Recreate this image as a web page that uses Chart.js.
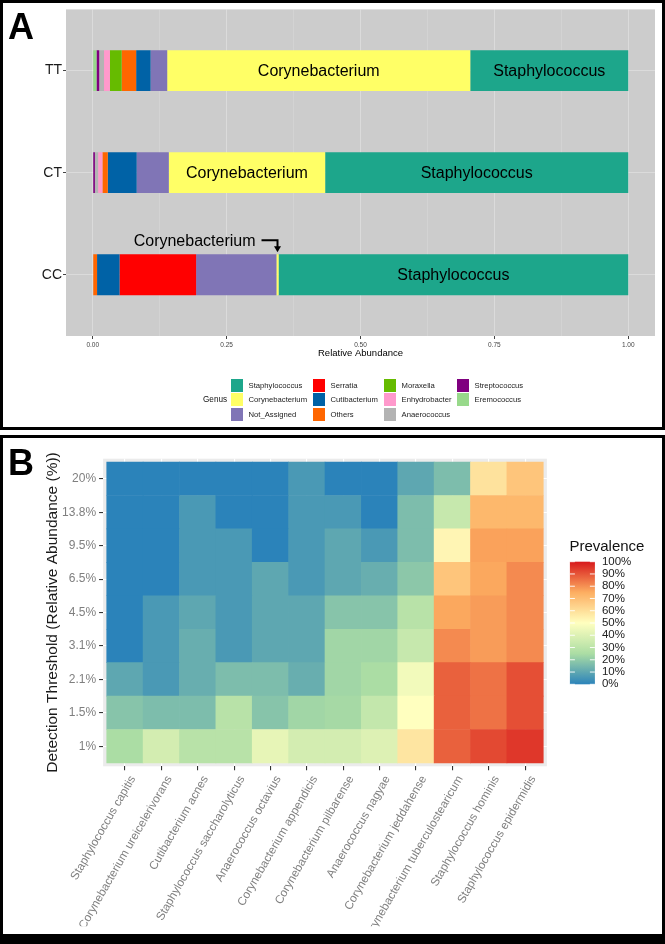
<!DOCTYPE html>
<html>
<head>
<meta charset="utf-8">
<title>Relative abundance and prevalence</title>
<script src="https://cdn.jsdelivr.net/npm/chart.js@4.4.1/dist/chart.umd.min.js"></script>
<style>
  html, body { margin: 0; padding: 0; background: #fff; }
  body { width: 665px; height: 944px; position: relative; overflow: hidden; font-family: 'Liberation Sans', Arial, sans-serif; }
  canvas { position: absolute; left: 0; }
  #chartA { top: 0; }
  #chartB { top: 435px; }
  .panel { position: absolute; left: 0; width: 665px; box-sizing: border-box; border: 3px solid #000; z-index: 2; pointer-events: none; }
  #panelA { top: 0; height: 430px; }
  #panelB { top: 435px; height: 509px; border-bottom-width: 10px; }
  .tag { position: absolute; left: 8px; font: bold 36px/36px 'Liberation Sans', Arial, sans-serif; color: #000; z-index: 3; }
  #legendA { position: absolute; left: 0; top: 0; width: 665px; height: 430px; z-index: 1; }
  .key { position: absolute; width: 12px; height: 13px; }
  .keytext { position: absolute; font-size: 7.7px; line-height: 13px; color: #222; white-space: nowrap; }
  .legtitle { position: absolute; font-size: 8.2px; line-height: 13px; color: #111; }
</style>
</head>
<body>
<canvas id="chartA" width="665" height="430"></canvas>
<canvas id="chartB" width="665" height="509"></canvas>
<div id="legendA"></div>
<div class="panel" id="panelA"></div>
<div class="panel" id="panelB"></div>
<div class="tag" style="top:9px">A</div>
<div class="tag" style="top:445px">B</div>
<script>
const FONT = "'Liberation Sans', Arial, sans-serif";

// ---- Panel A: relative abundance by genotype ----
const genotypes = ['TT', 'CT', 'CC'];
// stacking order, left to right
const genera = ['Eremococcus', 'Streptococcus', 'Anaerococcus', 'Enhydrobacter', 'Moraxella', 'Others',
  'Cutibacterium', 'Serratia', 'Not_Assigned', 'Corynebacterium', 'Staphylococcus'];
const eremococcus     = [0.007, 0.000, 0.000];
const streptococcus   = [0.005, 0.004, 0.000];
const anaerococcus    = [0.009, 0.006, 0.000];
const enhydrobacter   = [0.011, 0.008, 0.000];
const moraxella       = [0.022, 0.000, 0.000];
const others          = [0.027, 0.010, 0.008];
const cutibacterium   = [0.027, 0.054, 0.042];
const serratia        = [0.000, 0.000, 0.143];
const notAssigned     = [0.031, 0.060, 0.150];
const corynebacterium = [0.566, 0.292, 0.004];
const staphylococcus  = [0.295, 0.566, 0.653];
const generaValues = [eremococcus, streptococcus, anaerococcus, enhydrobacter, moraxella, others,
  cutibacterium, serratia, notAssigned, corynebacterium, staphylococcus];
const generaColors = ['#98d98b', '#7f007f', '#b3b3b3', '#ff99cc', '#66bb00', '#ff6600',
  '#0062a6', '#ff0000', '#8075b6', '#ffff66', '#1da68b'];

const abundanceTickValues = [0, 0.25, 0.5, 0.75, 1];
const abundanceTickLabels = ['0.00', '0.25', '0.50', '0.75', '1.00'];
const abundanceGrid = [0, 0.125, 0.25, 0.375, 0.5, 0.625, 0.75, 0.875, 1];

// text written on the bars
const barLabels = [
  { genus: 'Corynebacterium', row: 0 }, { genus: 'Staphylococcus', row: 0 },
  { genus: 'Corynebacterium', row: 1 }, { genus: 'Staphylococcus', row: 1 },
  { genus: 'Staphylococcus', row: 2 }
];
const callout = { genus: 'Corynebacterium', row: 2 };

function panelBg(color) {
  return {
    id: 'panelBg',
    beforeDraw(chart) {
      const { ctx, chartArea: a } = chart;
      ctx.save();
      ctx.fillStyle = color;
      ctx.fillRect(a.left, a.top, a.right - a.left, a.bottom - a.top);
      ctx.restore();
    }
  };
}

const barText = {
  id: 'barText',
  afterDatasetsDraw(chart) {
    const ctx = chart.ctx;
    ctx.save();
    ctx.font = '16px ' + FONT;
    ctx.fillStyle = '#000';
    ctx.textAlign = 'center';
    ctx.textBaseline = 'middle';
    barLabels.forEach(l => {
      const el = chart.getDatasetMeta(genera.indexOf(l.genus)).data[l.row];
      ctx.fillText(l.genus, (el.x + el.base) / 2, el.y + 1);
    });
    const el = chart.getDatasetMeta(genera.indexOf(callout.genus)).data[callout.row];
    const ax = (el.x + el.base) / 2;
    const top = el.y - el.height / 2;
    const ly = top - 14;
    ctx.textAlign = 'right';
    ctx.fillText(callout.genus, ax - 22, ly + 1);
    ctx.strokeStyle = '#000';
    ctx.lineWidth = 2;
    ctx.beginPath();
    ctx.moveTo(ax - 16, ly);
    ctx.lineTo(ax, ly);
    ctx.lineTo(ax, top - 7);
    ctx.stroke();
    ctx.beginPath();
    ctx.moveTo(ax - 3.5, top - 8);
    ctx.lineTo(ax + 3.5, top - 8);
    ctx.lineTo(ax, top - 2);
    ctx.closePath();
    ctx.fill();
    ctx.restore();
  }
};

const isMajor = v => abundanceTickValues.includes(v);

new Chart(document.getElementById('chartA'), {
  type: 'bar',
  data: {
    datasets: genera.map((g, k) => ({
      label: g,
      data: generaValues[k].map((v, i) => ({ x: v, y: i })),
      backgroundColor: generaColors[k],
      borderWidth: 0,
      categoryPercentage: 1,
      barPercentage: 0.4
    }))
  },
  options: {
    indexAxis: 'y',
    responsive: false,
    animation: false,
    layout: { padding: { top: 7, right: 10, left: 0, bottom: 71 } },
    plugins: { legend: { display: false }, tooltip: { enabled: false } },
    scales: {
      x: {
        type: 'linear', stacked: true, min: -0.05, max: 1.05,
        afterBuildTicks: s => { s.ticks = abundanceGrid.map(v => ({ value: v })); },
        afterFit: s => { s.height = 23; },
        border: { display: false },
        grid: {
          color: c => (c.tick && isMajor(c.tick.value)) ? 'rgba(255,255,255,0.3)' : 'rgba(255,255,255,0.15)',
          tickColor: c => (c.tick && isMajor(c.tick.value)) ? '#444' : 'rgba(0,0,0,0)',
          tickLength: 3
        },
        ticks: {
          autoSkip: false, maxRotation: 0, padding: 2, color: '#444',
          font: { size: 6.5, family: FONT },
          callback: v => { const i = abundanceTickValues.indexOf(v); return i >= 0 ? abundanceTickLabels[i] : ''; }
        },
        title: { display: true, text: 'Relative Abundance', color: '#000', font: { size: 9.5, family: FONT }, padding: 0 }
      },
      y: {
        type: 'linear', stacked: true, reverse: true, min: -0.6, max: 2.6, offset: false,
        afterBuildTicks: s => { s.ticks = genotypes.map((g, i) => ({ value: i })); },
        afterFit: s => { s.width = 66; },
        border: { display: false },
        grid: { offset: false, color: 'rgba(255,255,255,0.3)', tickColor: '#444', tickLength: 3 },
        ticks: { autoSkip: false, padding: 1, color: '#1a1a1a', font: { size: 14, family: FONT }, callback: v => genotypes[v] }
      }
    }
  },
  plugins: [panelBg('#cccccc'), barText]
});

// legend for panel A (ggplot order: columns of three)
const legendCols = [231, 313, 384, 457];
const legendRows = [378.5, 393, 407.5];
const legendBox = document.getElementById('legendA');
const legTitle = document.createElement('div');
legTitle.className = 'legtitle';
legTitle.textContent = 'Genus';
legTitle.style.left = '203px';
legTitle.style.top = legendRows[1] + 'px';
legendBox.appendChild(legTitle);
genera.slice().reverse().forEach((g, k) => {
  const col = Math.floor(k / 3), row = k % 3;
  const key = document.createElement('div');
  key.className = 'key';
  key.style.left = legendCols[col] + 'px';
  key.style.top = legendRows[row] + 'px';
  key.style.background = generaColors[genera.indexOf(g)];
  const txt = document.createElement('div');
  txt.className = 'keytext';
  txt.textContent = g;
  txt.style.left = (legendCols[col] + 17.5) + 'px';
  txt.style.top = legendRows[row] + 'px';
  legendBox.appendChild(key);
  legendBox.appendChild(txt);
});

// ---- Panel B: prevalence heatmap ----
const species = ['Staphylococcus capitis', 'Corynebacterium ureicelerivorans', 'Cutibacterium acnes',
  'Staphylococcus saccharolyticus', 'Anaerococcus octavius', 'Corynebacterium appendicis',
  'Corynebacterium pilbarense', 'Anaerococcus nagyae', 'Corynebacterium jeddahense',
  'Corynebacterium tuberculostearicum', 'Staphylococcus hominis', 'Staphylococcus epidermidis'];
// detection thresholds, bottom row first
const thresholds = ['1%', '1.5%', '2.1%', '3.1%', '4.5%', '6.5%', '9.5%', '13.8%', '20%'];
// prevalence (%) per species at each threshold
const prev1    = [25, 37, 29, 29, 43, 37, 37, 40, 58, 88, 92, 95];
const prev1_5  = [18, 16, 16, 29, 18, 23, 24, 32, 50, 88, 85, 91];
const prev2_1  = [10, 6, 12, 16, 16, 12, 23, 25, 46, 88, 85, 91];
const prev3_1  = [0, 6, 12, 6, 10, 10, 23, 23, 33, 81, 78, 81];
const prev4_5  = [0, 6, 10, 6, 10, 10, 18, 18, 29, 76, 78, 81];
const prev6_5  = [0, 0, 6, 6, 10, 6, 10, 12, 19, 68, 76, 81];
const prev9_5  = [0, 0, 6, 6, 0, 6, 10, 6, 16, 53, 77, 77];
const prev13_8 = [0, 0, 6, 0, 0, 6, 6, 0, 16, 33, 72, 72];
const prev20   = [0, 0, 0, 0, 0, 6, 0, 0, 10, 16, 59, 68];
const prevalenceRows = [prev1, prev1_5, prev2_1, prev3_1, prev4_5, prev6_5, prev9_5, prev13_8, prev20];
const prevalenceTicks = [0, 10, 20, 30, 40, 50, 60, 70, 80, 90, 100];

const spectral = ['#2b83ba', '#abdda4', '#ffffbf', '#fdae61', '#d7191c'];
const hexRgb = h => [1, 3, 5].map(i => parseInt(h.slice(i, i + 2), 16));
function prevColor(p) {
  const t = Math.max(0, Math.min(1, p / 100)) * (spectral.length - 1);
  const i = Math.min(spectral.length - 2, Math.floor(t));
  const f = t - i;
  const a = hexRgb(spectral[i]), b = hexRgb(spectral[i + 1]);
  const c = a.map((v, k) => Math.round(v + (b[k] - v) * f));
  return 'rgb(' + c.join(',') + ')';
}

const colorbar = {
  id: 'colorbar',
  afterDraw(chart) {
    const ctx = chart.ctx;
    const x0 = chart.chartArea.right + 23, w = 25;
    const top = 126.7, bottom = 249.3, h = bottom - top;
    ctx.save();
    ctx.font = '15px ' + FONT;
    ctx.fillStyle = '#111';
    ctx.textAlign = 'left';
    ctx.textBaseline = 'middle';
    ctx.fillText('Prevalence', x0 - 0.5, 112.3);
    const grad = ctx.createLinearGradient(0, bottom, 0, top);
    for (let p = 0; p <= 100; p += 5) grad.addColorStop(p / 100, prevColor(p));
    ctx.fillStyle = grad;
    ctx.fillRect(x0, top, w, h);
    ctx.strokeStyle = 'rgba(255,255,255,0.9)';
    ctx.lineWidth = 1;
    ctx.font = '11.5px ' + FONT;
    ctx.fillStyle = '#222';
    prevalenceTicks.forEach(p => {
      const y = bottom - p / 100 * h;
      ctx.beginPath();
      ctx.moveTo(x0, y); ctx.lineTo(x0 + 5, y);
      ctx.moveTo(x0 + w - 5, y); ctx.lineTo(x0 + w, y);
      ctx.stroke();
      ctx.fillText(p + '%', x0 + 32, y);
    });
    ctx.restore();
  }
};

new Chart(document.getElementById('chartB'), {
  type: 'bar',
  data: {
    datasets: prevalenceRows.map((row, r) => ({
      label: thresholds[r],
      data: species.map((s, i) => ({ x: i, y: 1 })),
      backgroundColor: row.map(prevColor),
      borderWidth: 0,
      categoryPercentage: 1,
      barPercentage: 1
    }))
  },
  options: {
    responsive: false,
    animation: false,
    layout: { padding: { top: 23.7, right: 118.1, left: 0, bottom: 17.7 } },
    plugins: { legend: { display: false }, tooltip: { enabled: false } },
    scales: {
      x: {
        type: 'linear', stacked: true, min: -0.6, max: 11.6, offset: false,
        afterBuildTicks: s => { s.ticks = species.map((n, i) => ({ value: i })); },
        afterFit: s => { s.height = 160; },
        border: { display: false },
        grid: { offset: false, color: '#ffffff', lineWidth: 1.1, tickColor: '#333', tickLength: 4 },
        ticks: {
          autoSkip: false, minRotation: 60, maxRotation: 60, padding: 3, labelOffset: 8, color: '#7f7f7f',
          font: { size: 11.7, family: FONT }, callback: v => species[v]
        }
      },
      y: {
        type: 'linear', stacked: true, min: -0.1, max: 9.1,
        afterBuildTicks: s => { s.ticks = thresholds.map((t, i) => ({ value: i + 0.5 })); },
        afterFit: s => { s.width = 103.1; },
        border: { display: false },
        grid: { color: '#ffffff', lineWidth: 1.1, tickColor: '#333', tickLength: 4 },
        ticks: {
          autoSkip: false, padding: 3, color: '#7f7f7f', font: { size: 12, family: FONT },
          callback: v => thresholds[Math.round(v - 0.5)]
        },
        title: {
          display: true, text: 'Detection Threshold (Relative Abundance (%))', color: '#1a1a1a',
          font: { size: 15.5, family: FONT }, padding: { top: 43, bottom: 0 }
        }
      }
    }
  },
  plugins: [panelBg('#ebebeb'), colorbar]
});
</script>
</body>
</html>
